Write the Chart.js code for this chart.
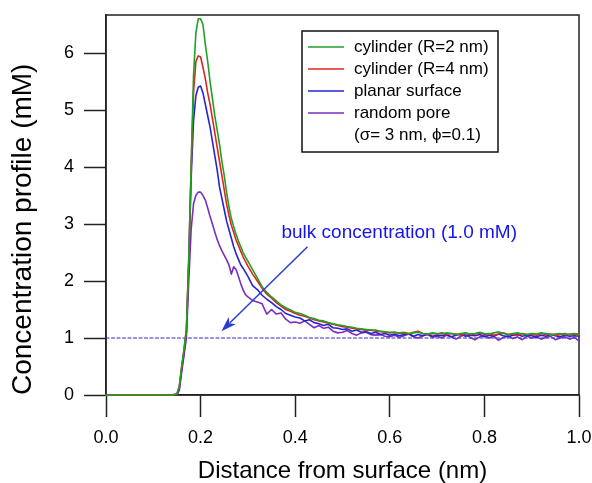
<!DOCTYPE html>
<html>
<head>
<meta charset="utf-8">
<script src="https://cdn.jsdelivr.net/npm/chart.js@4/dist/chart.umd.min.js"></script>
<style>
  html, body { margin: 0; padding: 0; background: #ffffff; }
  #wrap { width: 592px; height: 483px; position: relative; }
</style>
</head>
<body>
<div id="wrap"><canvas id="c" width="592" height="483"></canvas></div>
<script>
// ---- Data ----
const distance = [
  0.00, 0.02, 0.04, 0.06, 0.08, 0.10, 0.12, 0.14,
  0.150, 0.155, 0.160, 0.165, 0.170, 0.175, 0.180, 0.185, 0.190, 0.195,
  0.200, 0.205, 0.210, 0.215, 0.220, 0.225, 0.230, 0.235, 0.240, 0.245,
  0.250, 0.255, 0.260, 0.265, 0.270, 0.275, 0.280, 0.285, 0.290, 0.295, 0.300,
  0.31, 0.32, 0.33, 0.34, 0.35, 0.36, 0.37, 0.38, 0.39, 0.40,
  0.41, 0.42, 0.43, 0.44, 0.45, 0.46, 0.47, 0.48, 0.49, 0.50,
  0.51, 0.52, 0.53, 0.54, 0.55, 0.56, 0.57, 0.58, 0.59, 0.60,
  0.61, 0.62, 0.63, 0.64, 0.65, 0.66, 0.67, 0.68, 0.69, 0.70,
  0.71, 0.72, 0.73, 0.74, 0.75, 0.76, 0.77, 0.78, 0.79, 0.80,
  0.81, 0.82, 0.83, 0.84, 0.85, 0.86, 0.87, 0.88, 0.89, 0.90,
  0.91, 0.92, 0.93, 0.94, 0.95, 0.96, 0.97, 0.98, 0.99, 1.00
];

const cylinderR2 = [
  0, 0, 0, 0, 0, 0, 0, 0,
  0.02, 0.15, 0.5, 0.8, 1.15, 2.4, 4.0, 5.6, 6.35, 6.6,
  6.6, 6.5, 6.15, 5.85, 5.5, 5.2, 4.9, 4.65, 4.4, 4.1,
  3.85, 3.55, 3.3, 3.1, 2.95, 2.82, 2.7, 2.6, 2.5, 2.42, 2.35,
  2.2, 2.05, 1.9, 1.8, 1.72, 1.65, 1.58, 1.53, 1.49, 1.45,
  1.43, 1.4, 1.36, 1.34, 1.31, 1.3, 1.27, 1.25, 1.23, 1.22,
  1.2, 1.19, 1.17, 1.16, 1.15, 1.14, 1.14, 1.12, 1.11, 1.1,
  1.1, 1.09, 1.1, 1.08, 1.09, 1.1, 1.08, 1.07, 1.09, 1.08,
  1.07, 1.09, 1.08, 1.06, 1.08, 1.09, 1.07, 1.08, 1.1, 1.08,
  1.07, 1.09, 1.11, 1.08, 1.06, 1.08, 1.09, 1.07, 1.06, 1.08,
  1.07, 1.09, 1.08, 1.06, 1.07, 1.08, 1.06, 1.07, 1.08, 1.07
];

const cylinderR4 = [
  0, 0, 0, 0, 0, 0, 0, 0,
  0.02, 0.15, 0.5, 0.8, 1.15, 2.4, 4.0, 5.3, 5.85, 5.95,
  5.93, 5.75, 5.55, 5.3, 5.1, 4.85, 4.6, 4.35, 4.1, 3.85,
  3.6, 3.35, 3.15, 2.98, 2.85, 2.72, 2.62, 2.52, 2.42, 2.34, 2.26,
  2.12, 2.0, 1.87, 1.77, 1.7, 1.62, 1.56, 1.5, 1.47, 1.43,
  1.4, 1.38, 1.35, 1.32, 1.3, 1.28, 1.26, 1.24, 1.22, 1.2,
  1.19, 1.17, 1.16, 1.15, 1.13, 1.14, 1.12, 1.11, 1.1, 1.09,
  1.1, 1.08, 1.09, 1.07, 1.1, 1.12, 1.08, 1.06, 1.08, 1.07,
  1.09, 1.06, 1.08, 1.07, 1.05, 1.08, 1.06, 1.07, 1.09, 1.06,
  1.08, 1.05, 1.07, 1.09, 1.06, 1.07, 1.05, 1.08, 1.06, 1.07,
  1.05, 1.08, 1.06, 1.07, 1.05, 1.06, 1.08, 1.05, 1.07, 1.05
];

const planarSurface = [
  0, 0, 0, 0, 0, 0, 0, 0,
  0.01, 0.12, 0.45, 0.75, 1.1, 2.3, 3.8, 4.8, 5.25, 5.4,
  5.42, 5.3, 5.1, 4.9, 4.7, 4.45, 4.2, 3.95, 3.65, 3.45,
  3.25, 3.05, 2.9, 2.75, 2.6, 2.48, 2.38, 2.28, 2.22, 2.15, 2.08,
  1.92, 1.85, 1.75, 1.68, 1.62, 1.55, 1.5, 1.43, 1.4, 1.37,
  1.35, 1.3, 1.32, 1.27, 1.25, 1.22, 1.24, 1.18, 1.17, 1.15,
  1.16, 1.12, 1.14, 1.1, 1.11, 1.08, 1.1, 1.06, 1.08, 1.05,
  1.07, 1.04, 1.06, 1.08, 1.03, 1.06, 1.04, 1.07, 1.03, 1.05,
  1.04, 1.06, 1.02, 1.05, 1.07, 1.03, 1.05, 1.04, 1.06, 1.02,
  1.05, 1.03, 1.07, 1.04, 1.02, 1.05, 1.06, 1.03, 1.05, 1.04,
  1.02, 1.05, 1.03, 1.06, 1.04, 1.02, 1.05, 1.03, 1.04, 1.03
];

const randomPore = [
  0, 0, 0, 0, 0, 0, 0, 0,
  0.0, 0.08, 0.4, 0.7, 1.0, 2.0, 2.9, 3.35, 3.5, 3.56,
  3.56, 3.5, 3.42, 3.28, 3.13, 3.0, 2.86, 2.73, 2.62, 2.53,
  2.45, 2.37, 2.28, 2.12, 2.25, 2.2, 2.08, 1.95, 1.84, 1.76, 1.72,
  1.66, 1.63, 1.6, 1.42, 1.5, 1.42, 1.44, 1.33, 1.27, 1.28,
  1.26, 1.3, 1.24, 1.18, 1.22, 1.17, 1.19, 1.12, 1.09, 1.1,
  1.13, 1.08, 1.05, 1.09, 1.1, 1.06, 1.05, 1.06, 1.03, 1.02,
  1.05, 1.01, 1.04, 1.07, 1.02, 1.0, 1.04, 1.06, 1.01, 1.03,
  1.0, 1.05, 1.02, 0.98, 1.03, 1.06, 1.01, 0.97, 1.02, 1.04,
  1.0, 1.03, 0.96, 1.01, 1.04, 0.99, 1.02, 0.97, 1.03, 1.0,
  1.02, 0.98, 1.01, 1.03, 0.97, 1.0, 1.02, 0.98, 1.01, 0.95
];

const bulkConcentration = 1.0;
const bulkLineX = [0.0, 1.0];

const xTickValues = [0.0, 0.2, 0.4, 0.6, 0.8, 1.0];
const yTickValues = [0, 1, 2, 3, 4, 5, 6];

const seriesLabels = [
  ['cylinder (R=2 nm)'],
  ['cylinder (R=4 nm)'],
  ['planar surface'],
  ['random pore', '(\u03c3= 3 nm, \u03d5=0.1)']
];

// ---- Styling ----
const seriesColors = ['#22a022', '#e02424', '#2424d0', '#7a2fc0'];
const FONT = '"Liberation Sans", Arial, Helvetica, sans-serif';

function pts(ys) { return distance.map((x, i) => ({ x: x, y: ys[i] })); }

const seriesData = [cylinderR2, cylinderR4, planarSurface, randomPore];
const datasets = seriesData.map((ys, i) => ({
  label: seriesLabels[i].join(' '),
  legendLines: seriesLabels[i],
  data: pts(ys),
  borderColor: seriesColors[i],
  backgroundColor: seriesColors[i],
  borderWidth: 1.6,
  pointRadius: 0,
  tension: 0,
  fill: false,
  clip: 3,
  order: i + 1
}));
datasets.push({
  label: 'bulk',
  isRef: true,
  data: bulkLineX.map(x => ({ x: x, y: bulkConcentration })),
  borderColor: '#2a2ad0',
  borderWidth: 1.2,
  borderDash: [3, 2.5],
  pointRadius: 0,
  fill: false,
  order: 10
});

// annotation (arrow + label) in data coordinates
const annotation = {
  text: 'bulk concentration (1.0 mM)',
  textAt: { x: 0.371, y: 2.84 },
  arrowFrom: { x: 0.426, y: 2.6 },
  arrowTo: { x: 0.244, y: 1.12 }
};

const framePlugin = {
  id: 'frame',
  beforeDatasetsDraw(chart) {
    const { ctx, chartArea: a } = chart;
    ctx.save();
    ctx.strokeStyle = '#222';
    ctx.lineWidth = 1.5;
    ctx.strokeRect(a.left, a.top, a.right - a.left, a.bottom - a.top);
    ctx.restore();
  },
  afterDatasetsDraw(chart) {
    const { ctx, scales } = chart;
    ctx.save();
    // annotation
    const xs = scales.x, ys = scales.y;
    const fx = xs.getPixelForValue(annotation.arrowFrom.x), fy = ys.getPixelForValue(annotation.arrowFrom.y);
    const tx = xs.getPixelForValue(annotation.arrowTo.x), ty = ys.getPixelForValue(annotation.arrowTo.y);
    const ang = Math.atan2(ty - fy, tx - fx);
    const head = 15, hw = 5;
    ctx.strokeStyle = '#2a3ad8';
    ctx.fillStyle = '#2a3ad8';
    ctx.lineWidth = 1.5;
    ctx.beginPath();
    ctx.moveTo(fx, fy);
    ctx.lineTo(tx - Math.cos(ang) * head * 0.8, ty - Math.sin(ang) * head * 0.8);
    ctx.stroke();
    ctx.beginPath();
    ctx.moveTo(tx, ty);
    const bx = tx - Math.cos(ang) * head, by = ty - Math.sin(ang) * head;
    ctx.lineTo(bx + Math.sin(ang) * hw, by - Math.cos(ang) * hw);
    ctx.lineTo(tx - Math.cos(ang) * head * 0.75, ty - Math.sin(ang) * head * 0.75);
    ctx.lineTo(bx - Math.sin(ang) * hw, by + Math.cos(ang) * hw);
    ctx.closePath();
    ctx.fill();

    ctx.fillStyle = '#1414f0';
    ctx.font = '19px ' + FONT;
    ctx.textBaseline = 'middle';
    ctx.textAlign = 'left';
    ctx.fillText(annotation.text, xs.getPixelForValue(annotation.textAt.x), ys.getPixelForValue(annotation.textAt.y));

    // legend
    const L = { left: 302, top: 31, w: 196, h: 121 };
    ctx.fillStyle = '#fff';
    ctx.fillRect(L.left, L.top, L.w, L.h);
    ctx.strokeStyle = '#111';
    ctx.lineWidth = 1.5;
    ctx.strokeRect(L.left, L.top, L.w, L.h);
    ctx.font = '17px ' + FONT;
    ctx.textBaseline = 'middle';
    let row = 0;
    chart.data.datasets.forEach(ds => {
      if (ds.isRef) return;
      const y = L.top + 16 + row * 22;
      ctx.strokeStyle = ds.borderColor;
      ctx.lineWidth = 1.6;
      ctx.beginPath();
      ctx.moveTo(L.left + 6, y);
      ctx.lineTo(L.left + 42, y);
      ctx.stroke();
      ctx.fillStyle = '#000';
      ds.legendLines.forEach((t, k) => {
        ctx.fillText(t, L.left + 52, y + k * 22);
      });
      row += ds.legendLines.length;
    });
    ctx.restore();
  }
};

new Chart(document.getElementById('c'), {
  type: 'line',
  data: { datasets: datasets },
  plugins: [framePlugin],
  options: {
    responsive: false,
    animation: false,
    events: [],
    layout: { padding: { top: 15, right: 13, left: 0, bottom: 0 } },
    plugins: { legend: { display: false }, tooltip: { enabled: false } },
    elements: { line: { borderJoinStyle: 'round', borderCapStyle: 'round' } },
    scales: {
      x: {
        type: 'linear',
        min: 0,
        max: 1.0,
        afterBuildTicks(s) { s.ticks = xTickValues.map(v => ({ value: v })); },
        afterFit(s) { s.height = 88; s.paddingLeft = 0; s.paddingRight = 0; },
        ticks: {
          callback: v => Number(v).toFixed(1),
          font: { family: FONT, size: 18 },
          color: '#000',
          padding: 10,
          maxRotation: 0
        },
        grid: { drawOnChartArea: false, drawTicks: true, tickLength: 22, tickColor: '#222', tickWidth: 1.5 },
        border: { display: true, color: '#222', width: 1.5 },
        title: {
          display: true,
          text: 'Distance from surface (nm)',
          font: { family: FONT, size: 24, lineHeight: 1.0 },
          color: '#000',
          padding: { top: 0, bottom: 0 }
        }
      },
      y: {
        type: 'linear',
        min: 0,
        max: 6.667,
        afterBuildTicks(s) { s.ticks = yTickValues.map(v => ({ value: v })); },
        afterFit(s) { s.width = 106; s.paddingTop = 0; s.paddingBottom = 0; },
        ticks: {
          callback: v => String(v),
          font: { family: FONT, size: 18 },
          color: '#000',
          padding: 10
        },
        grid: { drawOnChartArea: false, drawTicks: true, tickLength: 22, tickColor: '#222', tickWidth: 1.5 },
        border: { display: true, color: '#222', width: 1.5 },
        title: {
          display: true,
          align: 'start',
          text: 'Concentration profile (mM)',
          font: { family: FONT, size: 28, lineHeight: 1.2 },
          color: '#000',
          padding: { top: 6, bottom: 0 }
        }
      }
    }
  }
});
</script>
</body>
</html>
